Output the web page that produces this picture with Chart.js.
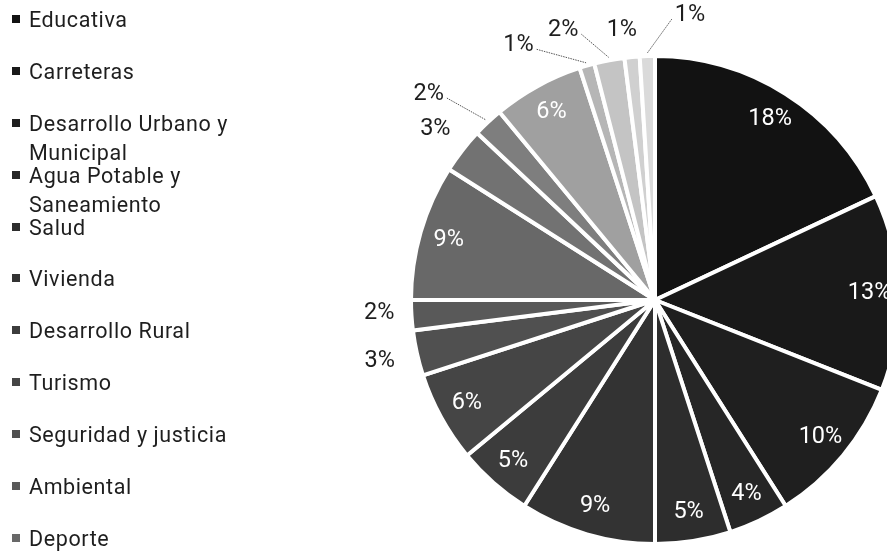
<!DOCTYPE html>
<html>
<head>
<meta charset="utf-8">
<script src="https://cdn.jsdelivr.net/npm/chart.js@4.4.0/dist/chart.umd.min.js"></script>
<style>
    html, body { margin: 0; padding: 0; background: #fff; overflow: hidden; }
    body { width: 887px; height: 557px; position: relative; font-family: Roboto, sans-serif; }
    #wrap { position: absolute; left: 0; top: 0; width: 901px; height: 557px; }
    #leyenda { position: absolute; left: 12px; top: 5px; width: 250px; }
    .item { position: relative; height: 51.9px; color: #1e1e1e; font-size: 21.5px; line-height: 29px; letter-spacing: 0.6px; padding-left: 17px; }
    .item i { position: absolute; left: 0; top: 10px; width: 8px; height: 8px; }
</style>
</head>
<body>
<div id="wrap"><canvas id="myChart"></canvas></div>
<div id="leyenda"></div>

<script>
// categorias visibles en la leyenda (el resto quedan fuera de la imagen)
var categorias = ["Educativa", "Carreteras", "Desarrollo Urbano y Municipal", "Agua Potable y Saneamiento",
    "Salud", "Vivienda", "Desarrollo Rural", "Turismo", "Seguridad y justicia", "Ambiental", "Deporte"];

// porcentaje por rebanada, en sentido horario desde arriba
var porcentajes = [18, 13, 10, 4, 5, 9, 5, 6, 3, 2, 9, 3, 2, 6, 1, 2, 1, 1];

var grises = ["#121212", "#191919", "#1f1f1f", "#262626", "#2d2d2d", "#333333", "#3c3c3c", "#454545", "#505050",
    "#595959", "#686868", "#727272", "#7e7e7e", "#a0a0a0", "#b6b6b6", "#c4c4c4", "#d0d0d0", "#dadada"];

// ajuste de etiquetas exteriores: giro (grados) y distancia extra al borde
var ajusteEtiquetas = {
    8: { da: 0, dr: 38 },
    9: { da: 0.8, dr: 32 },
    11: { da: 0, dr: 34 },
    12: { da: -4.5, dr: 62, linea: true },
    14: { da: -12, dr: 45, linea: true },
    15: { da: -8, dr: 41, linea: true },
    16: { da: -1.6, dr: 28 },
    17: { da: 8.8, dr: 43, linea: true }
};

var etiquetasPlugin = {
    id: "etiquetas",
    afterDatasetsDraw: function (chart) {
        var ctx = chart.ctx;
        var arcs = chart.getDatasetMeta(0).data;
        ctx.save();
        ctx.font = "23.5px Roboto, sans-serif";
        ctx.textAlign = "center";
        ctx.textBaseline = "middle";
        for (let i in arcs) {
            let a = arcs[i];
            let mid = (a.startAngle + a.endAngle) / 2;
            let r = a.outerRadius;
            let txt = porcentajes[i] + "%";
            if (porcentajes[i] >= 4) {
                ctx.fillStyle = "#ffffff";
                ctx.fillText(txt, a.x + Math.cos(mid) * r * 0.88, a.y + Math.sin(mid) * r * 0.88);
            } else {
                let aj = ajusteEtiquetas[i] || { da: 0, dr: 32 };
                let ang = mid + aj.da * Math.PI / 180;
                let lx = a.x + Math.cos(ang) * (r + aj.dr);
                let ly = a.y + Math.sin(ang) * (r + aj.dr);
                if (aj.linea) {
                    let w = ctx.measureText(txt).width;
                    let sx = lx + (aj.da < 0 ? w / 2 + 3 : -w / 2 - 3);
                    ctx.strokeStyle = "#555";
                    ctx.lineWidth = 1;
                    ctx.setLineDash([1.5, 1]);
                    ctx.beginPath();
                    ctx.moveTo(sx, ly + 4);
                    ctx.lineTo(a.x + Math.cos(mid) * (r + 3), a.y + Math.sin(mid) * (r + 3));
                    ctx.stroke();
                    ctx.setLineDash([]);
                }
                ctx.fillStyle = "#1e1e1e";
                ctx.fillText(txt, lx, ly);
            }
        }
        ctx.restore();
    }
};

window.onload = function () {

    var ctx = document.getElementById("myChart").getContext("2d");
    var myChart = new Chart(ctx, {
        type: "pie",
        data: {
            labels: categorias,
            datasets: [{
                data: porcentajes,
                backgroundColor: grises,
                borderColor: "#ffffff",
                borderWidth: 4
            }]
        },
        options: {
            responsive: true,
            maintainAspectRatio: false,
            animation: false,
            layout: { padding: { left: 409, right: 0, top: 54, bottom: 11 } },
            plugins: {
                legend: { display: false },
                tooltip: { enabled: false }
            }
        },
        plugins: [etiquetasPlugin]
    });

    let html = "";
    for (let i in categorias) {
        html += "<div class='item'><i style='background:" + grises[i] + "'></i>" + categorias[i] + "</div>";
    }
    document.getElementById("leyenda").innerHTML = html;

}
</script>
</body>
</html>
